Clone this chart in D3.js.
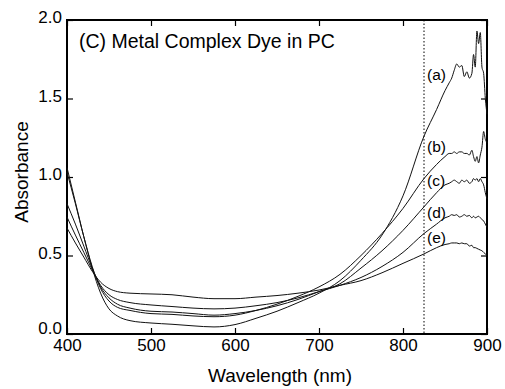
<!DOCTYPE html>
<html>
<head>
<meta charset="utf-8">
<script src="https://cdn.jsdelivr.net/npm/d3@7"></script>
<style>
  body { margin: 0; background: #fff; }
  svg text { font-family: "Liberation Sans", Arial, Helvetica, sans-serif; fill: #000; }
</style>
</head>
<body>
<div id="chart"></div>
<script>
// shared wavelength grid (nm)
var wavelengths = [400, 410, 420, 430, 440, 450, 460, 475, 500, 525, 550, 575, 600, 625, 650, 675,
  700, 725, 750, 775, 800, 825, 840, 850, 855, 858, 861, 864, 867, 870, 873, 876,
  879, 882, 884, 886, 888, 890, 892, 894, 896, 898, 900];

// absorbance, one array per sample
var seriesA = [1.06, 0.84, 0.62, 0.42, 0.26, 0.16, 0.115, 0.085, 0.07, 0.062, 0.052, 0.045, 0.06, 0.10, 0.145, 0.20,
  0.26, 0.34, 0.47, 0.63, 0.88, 1.26, 1.43, 1.55, 1.60, 1.63, 1.68, 1.72, 1.70, 1.71, 1.64, 1.67,
  1.63, 1.66, 1.78, 1.70, 1.93, 1.85, 1.92, 1.70, 1.66, 1.50, 1.40];
var seriesB = [1.03, 0.83, 0.62, 0.43, 0.29, 0.21, 0.17, 0.15, 0.13, 0.125, 0.115, 0.11, 0.12, 0.15, 0.19, 0.24,
  0.30, 0.38, 0.50, 0.64, 0.80, 0.99, 1.08, 1.13, 1.15, 1.15, 1.16, 1.15, 1.16, 1.16, 1.15, 1.15,
  1.14, 1.17, 1.13, 1.10, 1.13, 1.09, 1.14, 1.19, 1.29, 1.24, 1.22];
var seriesC = [0.83, 0.70, 0.56, 0.42, 0.30, 0.23, 0.19, 0.165, 0.145, 0.14, 0.13, 0.12, 0.13, 0.15, 0.18, 0.22,
  0.27, 0.32, 0.42, 0.53, 0.66, 0.81, 0.90, 0.95, 0.96, 0.97, 0.98, 0.97, 0.96, 0.98, 0.97, 0.98,
  0.96, 0.97, 0.99, 0.98, 0.99, 0.97, 0.99, 0.97, 0.95, 0.90, 0.86];
var seriesD = [0.745, 0.63, 0.52, 0.41, 0.31, 0.25, 0.22, 0.20, 0.185, 0.175, 0.165, 0.16, 0.165, 0.18, 0.20, 0.23,
  0.27, 0.31, 0.36, 0.43, 0.52, 0.64, 0.70, 0.74, 0.75, 0.76, 0.755, 0.76, 0.745, 0.75, 0.76, 0.75,
  0.755, 0.74, 0.75, 0.74, 0.745, 0.75, 0.74, 0.73, 0.72, 0.70, 0.68];
var seriesE = [0.675, 0.58, 0.49, 0.40, 0.33, 0.29, 0.27, 0.26, 0.255, 0.25, 0.235, 0.225, 0.225, 0.235, 0.245, 0.26,
  0.28, 0.31, 0.34, 0.39, 0.45, 0.51, 0.55, 0.57, 0.575, 0.58, 0.58, 0.58, 0.575, 0.58, 0.575, 0.575,
  0.56, 0.565, 0.55, 0.55, 0.545, 0.54, 0.535, 0.53, 0.52, 0.51, 0.50];

var seriesNames = ["(a)", "(b)", "(c)", "(d)", "(e)"];
var labelPos = [[825, 1.62], [825, 1.16], [825, 0.94], [825, 0.74], [825, 0.58]]; // [wl, absorbance] anchor of each tag
var xTicks = [400, 500, 600, 700, 800, 900];
var yTicks = [0.0, 0.5, 1.0, 1.5, 2.0];
var markerWl = 825;
var title = "(C) Metal Complex Dye in PC";

var width = 505, height = 389;
var margin = { top: 20, right: 18, bottom: 55, left: 67 };
var innerW = width - margin.left - margin.right;
var innerH = height - margin.top - margin.bottom;

var svg = d3.select("#chart").append("svg")
  .attr("width", width)
  .attr("height", height);

var g = svg.append("g")
  .attr("transform", `translate(${margin.left},${margin.top})`);

var x = d3.scaleLinear().domain([400, 900]).range([0, innerW]);
var y = d3.scaleLinear().domain([0, 2]).range([innerH, 0]);

// ticks point inward on all four sides
var tickLen = 6;
var fmt = d3.format(".1f");

g.append("g")
  .attr("transform", `translate(0,${innerH})`)
  .call(d3.axisBottom(x).tickValues(xTicks).tickSizeInner(-tickLen).tickSizeOuter(0).tickPadding(5))
  .call(a => a.select(".domain").remove())
  .call(a => a.selectAll("text").attr("font-size", 17).attr("dy", "0.72em"));

g.append("g")
  .call(d3.axisTop(x).tickValues(xTicks).tickSizeInner(-tickLen).tickSizeOuter(0).tickFormat(""))
  .call(a => a.select(".domain").remove());

g.append("g")
  .call(d3.axisLeft(y).tickValues(yTicks).tickFormat(fmt).tickSizeInner(-tickLen).tickSizeOuter(0).tickPadding(5))
  .call(a => a.select(".domain").remove())
  .call(a => a.selectAll("text").attr("font-size", 17).attr("dy", d => d === 0 ? "-0.05em" : "0.15em"));

g.append("g")
  .attr("transform", `translate(${innerW},0)`)
  .call(d3.axisRight(y).tickValues(yTicks).tickSizeInner(-tickLen).tickSizeOuter(0).tickFormat(""))
  .call(a => a.select(".domain").remove());

g.selectAll(".tick line").attr("stroke", "#000").attr("stroke-width", 1.2);

// frame
g.append("rect")
  .attr("width", innerW)
  .attr("height", innerH)
  .attr("fill", "none")
  .attr("stroke", "#000")
  .attr("stroke-width", 2);

// dotted marker
g.append("line")
  .attr("x1", x(markerWl)).attr("x2", x(markerWl))
  .attr("y1", 0).attr("y2", innerH)
  .attr("stroke", "#000")
  .attr("stroke-width", 1)
  .attr("stroke-dasharray", "1.5,2");

// spectra
var allSeries = [seriesA, seriesB, seriesC, seriesD, seriesE];
var line = d3.line()
  .x((d, i) => x(wavelengths[i]))
  .y(d => y(d))
  .curve(d3.curveMonotoneX);

g.append("g").selectAll("path")
  .data(allSeries)
  .enter()
  .append("path")
  .attr("d", line)
  .attr("fill", "none")
  .attr("stroke", "#111")
  .attr("stroke-width", 1);

// series tags
g.append("g").selectAll("text")
  .data(seriesNames)
  .enter()
  .append("text")
  .attr("x", (d, i) => x(labelPos[i][0]) + 3)
  .attr("y", (d, i) => y(labelPos[i][1]))
  .attr("font-size", 15.5)
  .text(d => d);

// title
g.append("text")
  .attr("x", 12)
  .attr("y", 28)
  .attr("font-size", 19.5)
  .text(title);

// axis titles
svg.append("text")
  .attr("x", margin.left + innerW / 2 + 3)
  .attr("y", 382)
  .attr("text-anchor", "middle")
  .attr("font-size", 19)
  .text("Wavelength (nm)");

svg.append("text")
  .attr("transform", `translate(28,172) rotate(-90)`)
  .attr("text-anchor", "middle")
  .attr("font-size", 19)
  .text("Absorbance");
</script>
</body>
</html>
